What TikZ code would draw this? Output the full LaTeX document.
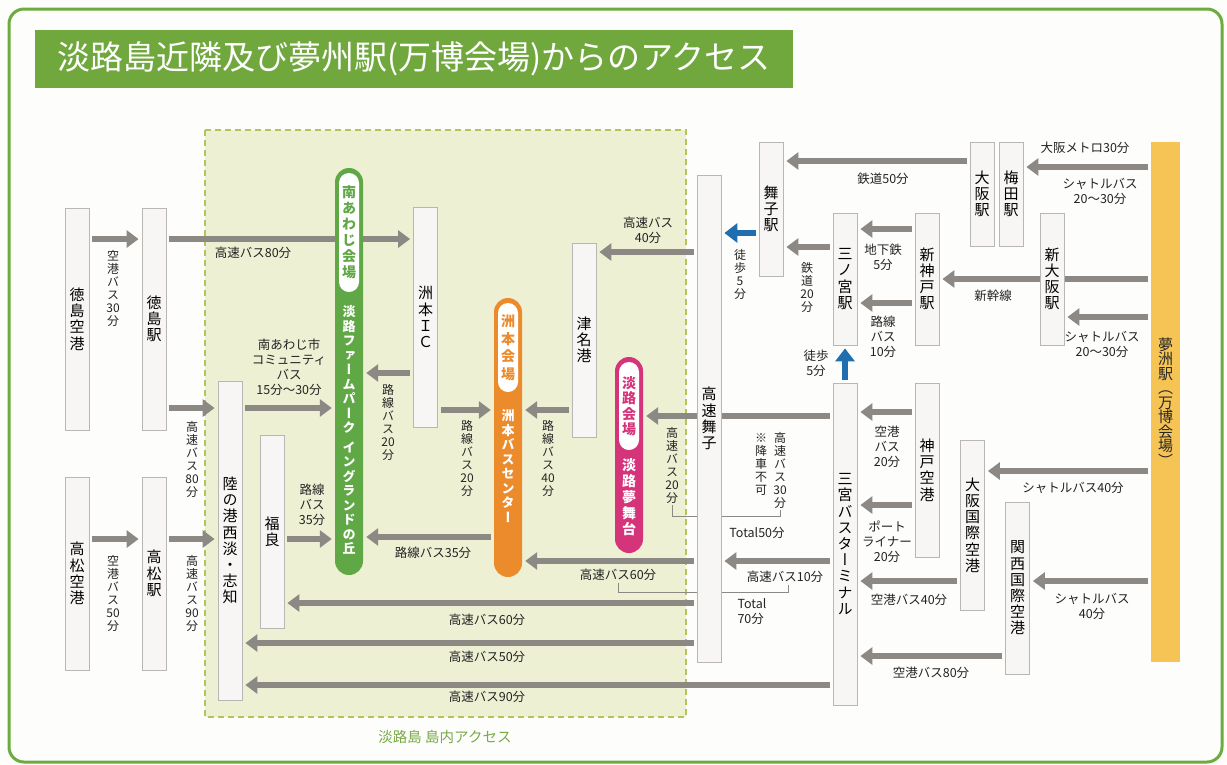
\documentclass[tikz,border=0pt]{standalone}
\usepackage{fontspec}
\newfontfamily\jph{Noto Sans CJK JP}
\newfontfamily\jpv[RawFeature=+vert]{Noto Sans CJK JP}
\usetikzlibrary{arrows.meta}
\definecolor{bgcol}{RGB}{253,253,251}
\definecolor{outergreen}{RGB}{108,172,62}
\definecolor{titlegreen}{RGB}{112,168,62}
\definecolor{islefill}{RGB}{238,240,212}
\definecolor{isledash}{RGB}{180,196,90}
\definecolor{arrgray}{RGB}{140,136,132}
\definecolor{boxfill}{RGB}{247,246,244}
\definecolor{boxline}{RGB}{185,183,181}
\definecolor{pgreen}{RGB}{96,168,70}
\definecolor{porange}{RGB}{236,139,44}
\definecolor{ppink}{RGB}{214,52,122}
\definecolor{yumeyellow}{RGB}{246,196,84}
\definecolor{bluearr}{RGB}{30,110,176}
\definecolor{labtext}{RGB}{35,35,35}
\definecolor{islelab}{RGB}{120,170,70}
\pgfdeclarelayer{back}
\pgfdeclarelayer{mid}
\pgfsetlayers{back,mid,main}
\tikzset{
 box/.style={draw=boxline, fill=boxfill, line width=0.8pt, minimum width=24pt, inner sep=0pt, align=center, font=\jpv\fontsize{15}{16.2}\selectfont, text=black},
 lab/.style={inner sep=0pt, align=center, text=labtext, font=\jph\fontsize{12.5}{15}\selectfont},
 vlab/.style={inner sep=0pt, align=center, text=labtext, font=\jpv\fontsize{12}{13}\selectfont},
 arr/.style={draw=arrgray, line width=6pt, -{Triangle[width=17pt,length=12pt]}, shorten <=3pt, shorten >=3pt},
 barr/.style={draw=bluearr, line width=6pt, -{Triangle[width=19pt,length=13pt]}, shorten <=3pt, shorten >=3pt},
 pill/.style={minimum width=28pt, rounded corners=14pt, inner sep=0pt},
 pin/.style={fill=white, minimum width=20pt, rounded corners=10pt, inner sep=0pt, align=center, font=\jpv\bfseries\fontsize{14}{16}\selectfont},
 ptxt/.style={inner sep=0pt, align=center, text=white, font=\jpv\bfseries\fontsize{13}{14.5}\selectfont},
 thinl/.style={draw=arrgray, line width=0.8pt},
}
\begin{document}
\begin{tikzpicture}[x=1pt,y=-1pt]
\useasboundingbox (0,0) rectangle (1227,764);
\begin{pgfonlayer}{back}
\fill[bgcol] (0,0) rectangle (1227,764);
\draw[outergreen, line width=3pt, rounded corners=15pt] (9,9) rectangle (1222,762);
\draw[isledash, fill=islefill, line width=1.3pt, dash pattern=on 6pt off 4pt] (205,130) rectangle (686,717);
\end{pgfonlayer}

% title
\node[fill=titlegreen, minimum width=758pt, minimum height=58pt, inner sep=0pt, text=white, font=\jph\fontsize{33}{33}\selectfont] (title) at (414,59) {淡路島近隣及び夢州駅(万博会場)からのアクセス};

% boxes
\node[box, minimum height=222pt] (tkap) at (77,319) {徳\\島\\空\\港};
\node[box, minimum height=222pt] (tkst) at (154,319) {徳\\島\\駅};
\node[box, minimum height=193pt] (tmap) at (77,573.5) {高\\松\\空\\港};
\node[box, minimum height=193pt] (tmst) at (154,573.5) {高\\松\\駅};
\node[box, minimum height=319pt] (riku) at (230,540.5) {陸\\の\\港\\西\\淡\\・\\志\\知};
\node[box, minimum height=193pt] (fuku) at (272,531.5) {福\\良};
\node[box, minimum height=220pt] (sumic) at (425.5,317) {洲\\本\\Ｉ\\Ｃ};
\node[box, minimum height=194pt] (tsuna) at (584,340) {津\\名\\港};
\node[box, minimum height=487pt] (kmai) at (709,418.5) {高\\速\\舞\\子};
\node[box, minimum height=134pt] (maiko) at (771,209) {舞\\子\\駅};
\node[box, minimum height=132pt] (sann) at (845,279) {三\\ノ\\宮\\駅};
\node[box, minimum height=132pt] (skobe) at (927,279) {新\\神\\戸\\駅};
\node[box, minimum height=104pt] (osaka) at (982,194) {大\\阪\\駅};
\node[box, minimum height=104pt] (umeda) at (1011,194) {梅\\田\\駅};
\node[box, minimum height=132pt] (sosaka) at (1052,279) {新\\大\\阪\\駅};
\node[box, minimum height=322pt] (sbt) at (845,544) {三\\宮\\バ\\ス\\タ\\ー\\ミ\\ナ\\ル};
\node[box, minimum height=174pt] (kobeap) at (927,470) {神\\戸\\空\\港};
\node[box, minimum height=170pt] (itami) at (972.5,525) {大\\阪\\国\\際\\空\\港};
\node[box, minimum height=172pt] (kix) at (1017.5,588) {関\\西\\国\\際\\空\\港};
\node[fill=yumeyellow, minimum width=29pt, minimum height=520pt, inner sep=0pt, align=center, font=\jpv\fontsize{15}{14.5}\selectfont, text=black!85] (yume) at (1165.5,402) {夢\\洲\\駅\\（\\万\\博\\会\\場\\）};

% venue pills
\node[pill, fill=pgreen, minimum height=407pt] (minami) at (349,371.5) {};
\node[pin, text=pgreen, minimum height=119pt] (minamiin) at (349,232.5) {南\\あ\\わ\\じ\\会\\場};
\node[ptxt] (farm) at (349,430) {淡\\路\\フ\\ァ\\ー\\ム\\パ\\ー\\ク\\[5pt]イ\\ン\\グ\\ラ\\ン\\ド\\の\\丘};

\node[pill, fill=porange, minimum height=279pt] (sumoto) at (508,437.5) {};
\node[pin, text=porange, minimum height=89pt, font=\jpv\bfseries\fontsize{14}{17.5}\selectfont] (sumotoin) at (508,347.5) {洲\\本\\会\\場};
\node[ptxt] (sbc) at (508,466) {洲\\本\\バ\\ス\\セ\\ン\\タ\\ー};

\node[pill, fill=ppink, minimum height=196pt] (awaji) at (629,455) {};
\node[pin, text=ppink, minimum height=88pt, font=\jpv\bfseries\fontsize{14}{15.5}\selectfont] (awajiin) at (629,406) {淡\\路\\会\\場};
\node[ptxt, font=\jpv\bfseries\fontsize{14}{16}\selectfont] (yumebutai) at (629,497) {淡\\路\\夢\\舞\\台};

% labels
\node[vlab] (l1) at (113,288) {空\\港\\バ\\ス\\30\\分};
\node[lab] (l2) at (253,253) {高速バス80分};
\node[vlab] (l3) at (192,459) {高\\速\\バ\\ス\\80\\分};
\node[vlab] (l4) at (113,593) {空\\港\\バ\\ス\\50\\分};
\node[vlab] (l5) at (192,593) {高\\速\\バ\\ス\\90\\分};
\node[lab] (l6) at (289,367) {南あわじ市\\コミュニティ\\バス\\15分～30分};
\node[lab] (l7) at (312,505) {路線\\バス\\35分};
\node[vlab] (l8) at (388,422) {路\\線\\バ\\ス\\20\\分};
\node[vlab] (l9) at (467,458) {路\\線\\バ\\ス\\20\\分};
\node[vlab] (l10) at (548,458) {路\\線\\バ\\ス\\40\\分};
\node[lab] (l11) at (433,553) {路線バス35分};
\node[lab] (l12) at (648,230) {高速バス\\40分};
\node[vlab] (l13) at (672,465) {高\\速\\バ\\ス\\20\\分};
\node[vlab] (l14) at (780,470) {高\\速\\バ\\ス\\30\\分};
\node[vlab] (l15) at (761,465) {※\\降\\車\\不\\可};
\node[lab] (l16) at (757,533) {Total50分};
\node[lab] (l17) at (618,575) {高速バス60分};
\node[lab] (l18) at (785,577) {高速バス10分};
\node[lab, align=left] (l19) at (752,612) {Total\\70分};
\node[lab] (l20) at (487,620) {高速バス60分};
\node[lab] (l21) at (487,657) {高速バス50分};
\node[lab] (l22) at (487,697) {高速バス90分};
\node[vlab] (l23) at (740,274) {徒\\歩\\5\\分};
\node[vlab] (l24) at (807,287) {鉄\\道\\20\\分};
\node[lab] (l25) at (883,257) {地下鉄\\5分};
\node[lab] (l26) at (883,337) {路線\\バス\\10分};
\node[lab] (l27) at (883,179) {鉄道50分};
\node[lab] (l28) at (1085,148) {大阪メトロ30分};
\node[lab] (l29) at (1100,191) {シャトルバス\\20～30分};
\node[lab] (l30) at (993,296) {新幹線};
\node[lab] (l31) at (1102,344) {シャトルバス\\20～30分};
\node[lab] (l32) at (816,363) {徒歩\\5分};
\node[lab] (l33) at (887,447) {空港\\バス\\20分};
\node[lab] (l34) at (887,542) {ポート\\ライナー\\20分};
\node[lab] (l35) at (1073,488) {シャトルバス40分};
\node[lab] (l36) at (909,600) {空港バス40分};
\node[lab] (l37) at (1092,606) {シャトルバス\\40分};
\node[lab] (l38) at (931,673) {空港バス80分};
\node[lab, text=islelab, font=\jph\fontsize{14.5}{16}\selectfont] (isle) at (445,737) {淡路島 島内アクセス};

\begin{pgfonlayer}{mid}
% left side
\draw[arr] (tkap.east |- 0,239) -- (tkst.west |- 0,239);
\draw[arr] (tkst.east |- 0,239) -- (sumic.west |- 0,239);
\draw[arr] (tkst.east |- 0,408) -- (riku.west |- 0,408);
\draw[arr] (tmap.east |- 0,539) -- (tmst.west |- 0,539);
\draw[arr] (tmst.east |- 0,539) -- (riku.west |- 0,539);
% island
\draw[arr] (riku.east |- 0,408) -- (minami.west |- 0,408);
\draw[arr] (fuku.east |- 0,539) -- (minami.west |- 0,539);
\draw[arr] (sumic.west |- 0,373) -- (minami.east |- 0,373);
\draw[arr] (sumic.east |- 0,410) -- (sumoto.west |- 0,410);
\draw[arr] (tsuna.west |- 0,410) -- (sumoto.east |- 0,410);
\draw[arr] (sumoto.west |- 0,537) -- (minami.east |- 0,537);
% from maiko / sannomiya
\draw[arr] (kmai.west |- 0,252) -- (tsuna.east |- 0,252);
\draw[arr] (sbt.west |- 0,416) -- (awaji.east |- 0,416);
\draw[arr] (kmai.west |- 0,561) -- (sumoto.east |- 0,561);
\draw[arr] (sbt.west |- 0,561) -- (kmai.east |- 0,561);
\draw[arr] (kmai.west |- 0,603) -- (fuku.east |- 0,603);
\draw[arr] (kmai.west |- 0,643) -- (riku.east |- 0,643);
\draw[arr] (sbt.west |- 0,685) -- (riku.east |- 0,685);
% right side
\draw[barr] (maiko.west |- 0,233) -- (kmai.east |- 0,233);
\draw[arr] (sann.west |- 0,247) -- (maiko.east |- 0,247);
\draw[arr] (skobe.west |- 0,229) -- (sann.east |- 0,229);
\draw[arr] (skobe.west |- 0,303) -- (sann.east |- 0,303);
\draw[arr] (osaka.west |- 0,161) -- (maiko.east |- 0,161);
\draw[arr] (yume.west |- 0,167) -- (umeda.east |- 0,167);
\draw[arr] (yume.west |- 0,279) -- (skobe.east |- 0,279);
\draw[arr] (yume.west |- 0,317) -- (sosaka.east |- 0,317);
\draw[barr] (sbt.north) -- (sann.south);
\draw[arr] (kobeap.west |- 0,412) -- (sbt.east |- 0,412);
\draw[arr] (kobeap.west |- 0,505) -- (sbt.east |- 0,505);
\draw[arr] (yume.west |- 0,471) -- (itami.east |- 0,471);
\draw[arr] (itami.west |- 0,581) -- (sbt.east |- 0,581);
\draw[arr] (yume.west |- 0,581) -- (kix.east |- 0,581);
\draw[arr] (kix.west |- 0,656) -- (sbt.east |- 0,656);
% total brackets
\draw[thinl] (l13.south |- 0,505) -- (l13.south |- 0,516) -- (l14.south |- 0,516) -- (l14.south |- 0,510);
\coordinate (b2l) at (618,583);
\coordinate (b2r) at (788,585);
\draw[thinl] (b2l) -- (b2l |- 0,592) -- (b2r |- 0,592) -- (b2r);
\end{pgfonlayer}
\end{tikzpicture}
\end{document}
